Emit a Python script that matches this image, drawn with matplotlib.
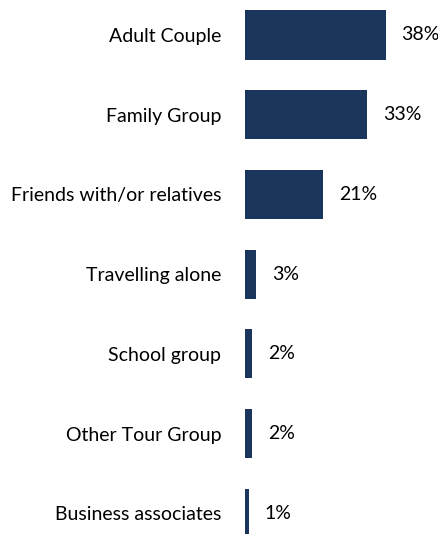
import matplotlib
matplotlib.use("Agg")
import matplotlib.pyplot as plt

categories = ["Adult Couple", "Family Group", "Friends with/or relatives",
              "Travelling alone", "School group", "Other Tour Group",
              "Business associates"]
values = [38, 33, 21, 3, 2, 2, 1]
value_labels = ["38%", "33%", "21%", "3%", "2%", "2%", "1%"]

BAR_COLOR = "#1b365d"
FONT = "Lato"

fig = plt.figure(figsize=(4.39, 5.34), dpi=100)
ax = fig.add_axes([245 / 439, 0, 194 / 439, 1])

pos = list(range(len(categories)))
ax.barh(pos, values, height=0.615, color=BAR_COLOR)
ax.set_xlim(0, 194 / 3.7)
ax.set_ylim((534 - 35) / 79.7, -35 / 79.7)

for p, v, lab in zip(pos, values, value_labels):
    ax.annotate(lab, (v, p), xytext=(16, 0), textcoords="offset pixels",
                ha="left", va="center", fontsize=14, family=FONT, color="#000000")

ax.set_yticks(pos)
ax.set_yticklabels(categories, fontsize=14, family=FONT, color="#000000")
ax.tick_params(axis="y", length=0, pad=17)
ax.set_xticks([])
for s in ax.spines.values():
    s.set_visible(False)

fig.savefig("out.png", dpi=100)
